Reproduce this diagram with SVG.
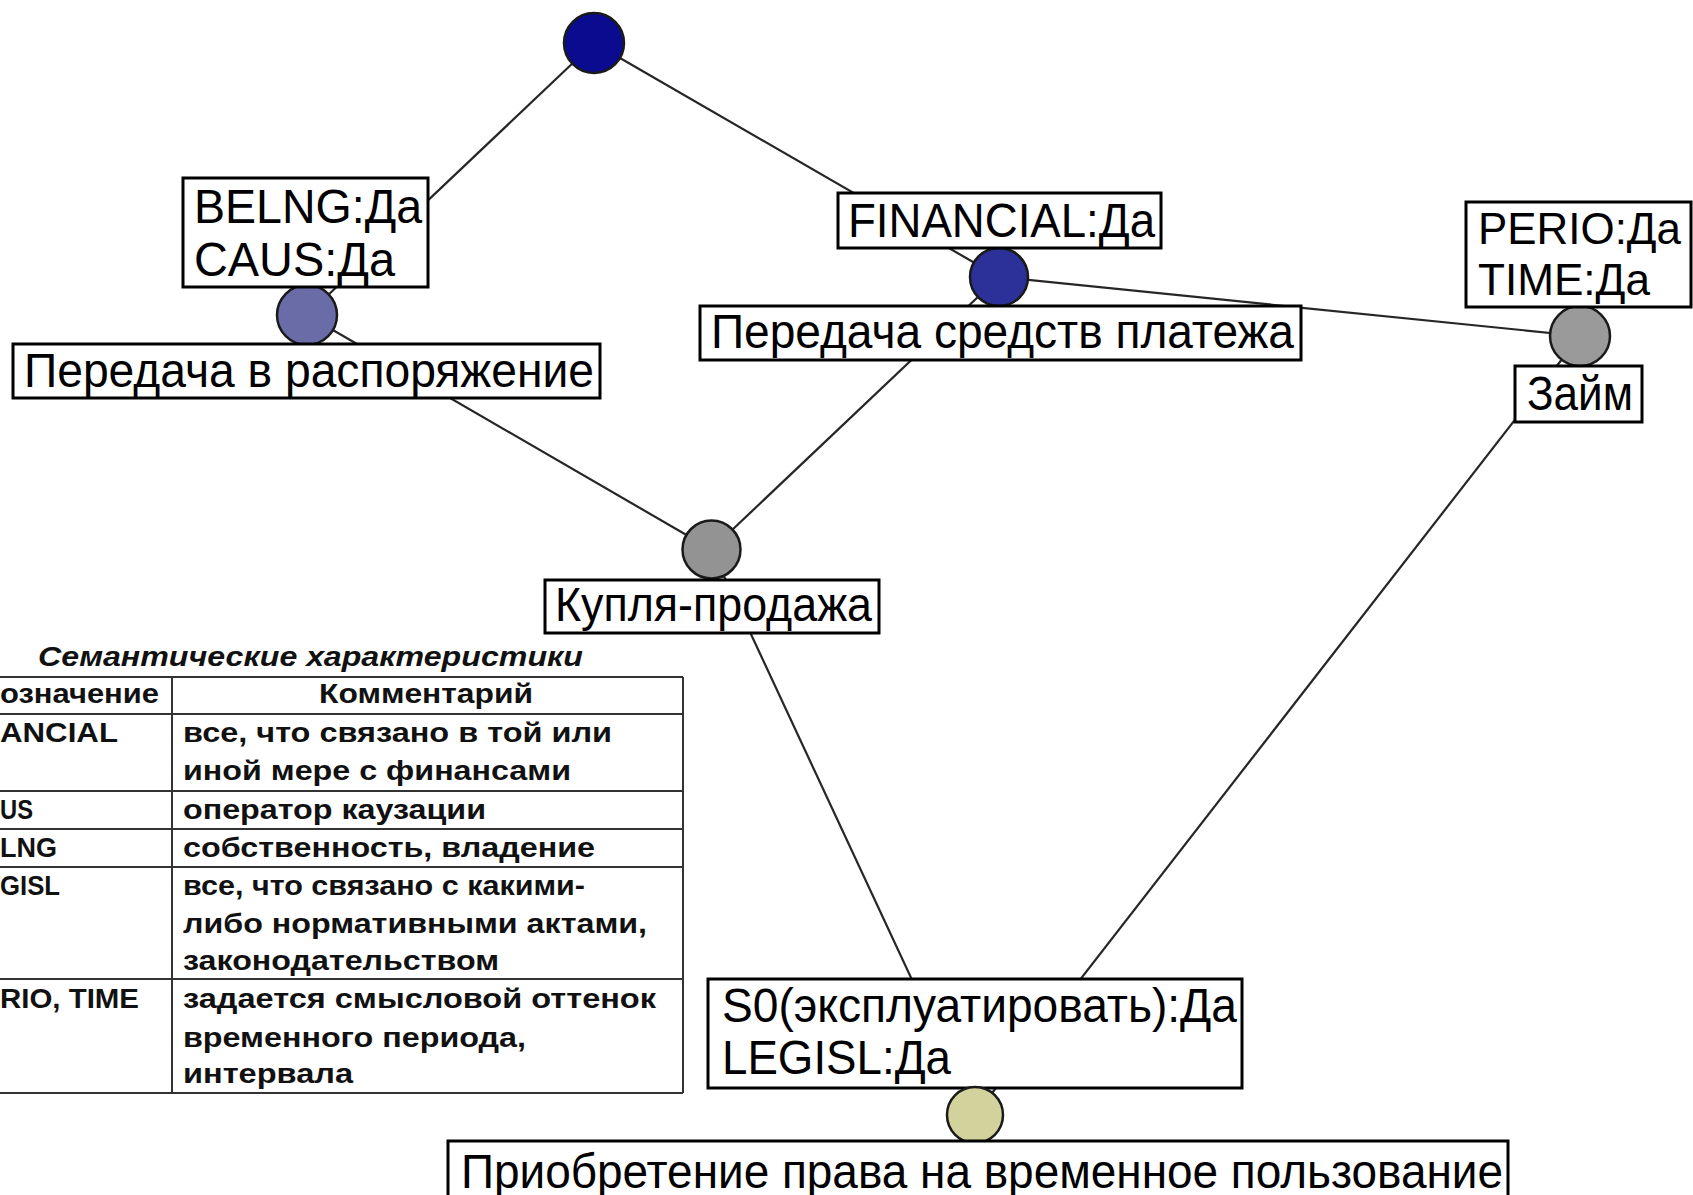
<svg xmlns="http://www.w3.org/2000/svg" width="1693" height="1195" viewBox="0 0 1693 1195">
<style>
.bg{fill:#fff}
.edge{stroke:#262626;stroke-width:2.2;fill:none}
.box{fill:#fff;stroke:#000;stroke-width:3}
.dot{stroke:#1a1a1a;stroke-width:2.5}
.lbl{font-family:"Liberation Sans",Arial,sans-serif;font-size:48px;fill:#000}
.sm{font-size:45px}
.tl{stroke:#333;stroke-width:2;fill:none}
.tt{font-family:"Liberation Sans",Arial,sans-serif;font-size:27px;font-weight:bold;fill:#111}
.ttl{font-family:"Liberation Sans",Arial,sans-serif;font-size:28px;font-weight:bold;font-style:italic;fill:#111}
</style>
<rect class="bg" x="0" y="0" width="1693" height="1195"/>
<g id="connectors">
<line class="edge" x1="594" y1="43" x2="307" y2="315"/>
<line class="edge" x1="594" y1="43" x2="999" y2="277"/>
<line class="edge" x1="307" y1="315" x2="711.5" y2="549.5"/>
<line class="edge" x1="999" y1="277" x2="711.5" y2="549.5"/>
<line class="edge" x1="999" y1="277" x2="1580" y2="336"/>
<line class="edge" x1="711.5" y1="549.5" x2="975" y2="1115"/>
<line class="edge" x1="1580" y1="336" x2="975" y2="1115"/>
</g>
<g id="n-root">
<circle class="dot" cx="594" cy="43" r="30" fill="#0b0b90"/>
</g>
<g id="n-transfer">
<circle class="dot" cx="307" cy="315" r="30" fill="#6a6ca8"/>
<rect class="box" x="183" y="178" width="245" height="109"/>
<text class="lbl" x="194" y="223" textLength="228" lengthAdjust="spacingAndGlyphs">BELNG:Да</text>
<text class="lbl" x="194" y="276" textLength="201" lengthAdjust="spacingAndGlyphs">CAUS:Да</text>
<rect class="box" x="13" y="344" width="587" height="54"/>
<text class="lbl" x="24" y="387" textLength="570" lengthAdjust="spacingAndGlyphs">Передача в распоряжение</text>
</g>
<g id="n-payment">
<circle class="dot" cx="999" cy="277" r="29" fill="#2c3199"/>
<rect class="box" x="838" y="193" width="323" height="55"/>
<text class="lbl" x="848" y="237" textLength="307" lengthAdjust="spacingAndGlyphs">FINANCIAL:Да</text>
<rect class="box" x="700" y="306" width="601" height="54"/>
<text class="lbl" x="711" y="348" textLength="583" lengthAdjust="spacingAndGlyphs">Передача средств платежа</text>
</g>
<g id="n-loan">
<circle class="dot" cx="1580" cy="336" r="30" fill="#9a9a9a"/>
<rect class="box" x="1466" y="202" width="225" height="105"/>
<text class="lbl sm" x="1478" y="244" textLength="203" lengthAdjust="spacingAndGlyphs">PERIO:Да</text>
<text class="lbl sm" x="1478" y="295" textLength="172" lengthAdjust="spacingAndGlyphs">TIME:Да</text>
<rect class="box" x="1515" y="366" width="127" height="56"/>
<text class="lbl" x="1527" y="410" textLength="106" lengthAdjust="spacingAndGlyphs">Займ</text>
</g>
<g id="n-sale">
<circle class="dot" cx="711.5" cy="549.5" r="29" fill="#939393"/>
<rect class="box" x="545" y="580" width="334" height="53"/>
<text class="lbl" x="555" y="621" textLength="317" lengthAdjust="spacingAndGlyphs">Купля-продажа</text>
</g>
<g id="n-lease">
<rect class="box" x="708" y="979" width="534" height="109"/>
<text class="lbl" x="722" y="1022" textLength="515" lengthAdjust="spacingAndGlyphs">S0(эксплуатировать):Да</text>
<text class="lbl" x="722" y="1074" textLength="229" lengthAdjust="spacingAndGlyphs">LEGISL:Да</text>
<circle class="dot" cx="975" cy="1115" r="28" fill="#d2d29c"/>
<rect class="box" x="448" y="1141" width="1060" height="70"/>
<text class="lbl" x="461" y="1188" textLength="1042" lengthAdjust="spacingAndGlyphs">Приобретение права на временное пользование</text>
</g>
<g id="legend">
<text class="ttl" x="38" y="666" textLength="545" lengthAdjust="spacingAndGlyphs">Семантические характеристики</text>
<line class="tl" x1="0" y1="677" x2="683" y2="677"/>
<line class="tl" x1="0" y1="714" x2="683" y2="714"/>
<line class="tl" x1="0" y1="791" x2="683" y2="791"/>
<line class="tl" x1="0" y1="829" x2="683" y2="829"/>
<line class="tl" x1="0" y1="867" x2="683" y2="867"/>
<line class="tl" x1="0" y1="979" x2="683" y2="979"/>
<line class="tl" x1="0" y1="1093" x2="683" y2="1093"/>
<line class="tl" x1="172" y1="677" x2="172" y2="1093"/>
<line class="tl" x1="683" y1="677" x2="683" y2="1093"/>
<text class="tt" x="0" y="703" textLength="159" lengthAdjust="spacingAndGlyphs">означение</text>
<text class="tt" x="319" y="703" textLength="214" lengthAdjust="spacingAndGlyphs">Комментарий</text>
<text class="tt" x="0" y="742" textLength="118" lengthAdjust="spacingAndGlyphs">ANCIAL</text>
<text class="tt" x="183" y="742" textLength="429" lengthAdjust="spacingAndGlyphs">все, что связано в той или</text>
<text class="tt" x="183" y="780" textLength="388" lengthAdjust="spacingAndGlyphs">иной мере с финансами</text>
<text class="tt" x="0" y="819" textLength="33" lengthAdjust="spacingAndGlyphs">US</text>
<text class="tt" x="183" y="819" textLength="303" lengthAdjust="spacingAndGlyphs">оператор каузации</text>
<text class="tt" x="0" y="857" textLength="57" lengthAdjust="spacingAndGlyphs">LNG</text>
<text class="tt" x="183" y="857" textLength="412" lengthAdjust="spacingAndGlyphs">собственность, владение</text>
<text class="tt" x="0" y="895" textLength="60" lengthAdjust="spacingAndGlyphs">GISL</text>
<text class="tt" x="183" y="895" textLength="402" lengthAdjust="spacingAndGlyphs">все, что связано с какими-</text>
<text class="tt" x="183" y="933" textLength="464" lengthAdjust="spacingAndGlyphs">либо нормативными актами,</text>
<text class="tt" x="183" y="970" textLength="316" lengthAdjust="spacingAndGlyphs">законодательством</text>
<text class="tt" x="0" y="1008" textLength="139" lengthAdjust="spacingAndGlyphs">RIO, TIME</text>
<text class="tt" x="183" y="1008" textLength="473" lengthAdjust="spacingAndGlyphs">задается смысловой оттенок</text>
<text class="tt" x="183" y="1047" textLength="343" lengthAdjust="spacingAndGlyphs">временного периода,</text>
<text class="tt" x="183" y="1083" textLength="170" lengthAdjust="spacingAndGlyphs">интервала</text>
</g>
</svg>
